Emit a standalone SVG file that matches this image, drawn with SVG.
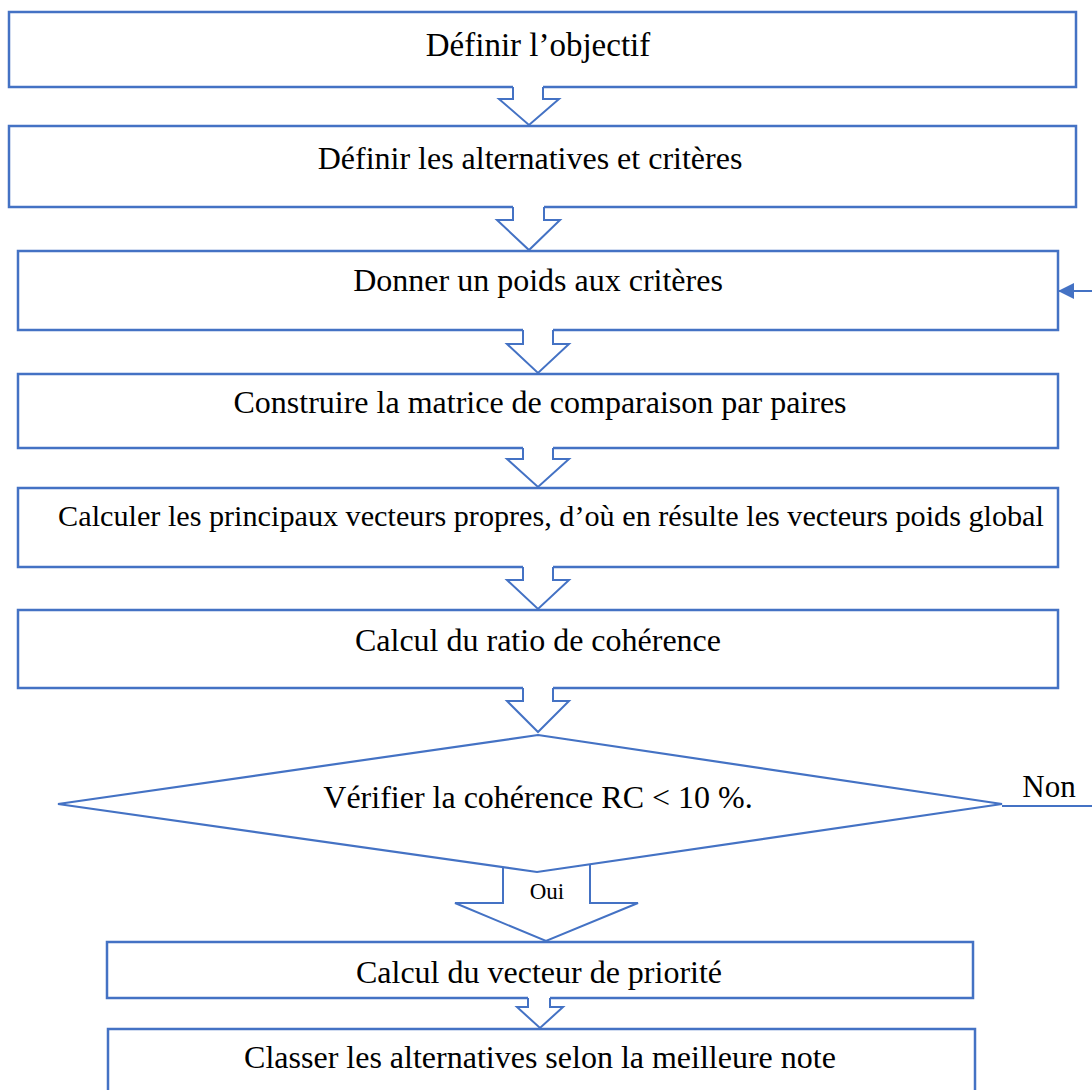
<svg xmlns="http://www.w3.org/2000/svg" width="1092" height="1090" viewBox="0 0 1092 1090">
  <style>
    .box { fill: #ffffff; stroke: #4472C4; stroke-width: 2.5; }
    .dec { fill: #ffffff; stroke: #4472C4; stroke-width: 2.2; }
    .afill { fill: #ffffff; stroke: none; }
    .aline { fill: none; stroke: #4472C4; stroke-width: 2; stroke-linejoin: miter; }
    .link { fill: none; stroke: #4472C4; stroke-width: 2.2; }
    .lbl { font-family: "Liberation Serif", "Times New Roman", serif; font-size: 32px; fill: #000000; text-anchor: middle; }
    .small { font-size: 23px; }
  </style>
  <defs>
    <marker id="head" viewBox="0 0 16 16" refX="16" refY="8" markerUnits="userSpaceOnUse" markerWidth="16" markerHeight="16" orient="auto">
      <path d="M0,0 L16,8 L0,16 z" fill="#4472C4"/>
    </marker>
  </defs>

  <rect width="1092" height="1090" fill="#ffffff"/>

  <g id="n1">
    <rect class="box" x="9" y="12" width="1067" height="75"/>
    <text class="lbl" x="538" y="56" style="font-size:33px">Définir l’objectif</text>
  </g>
  <g id="n2">
    <rect class="box" x="9" y="126" width="1067" height="81"/>
    <text class="lbl" x="530" y="169">Définir les alternatives et critères</text>
  </g>
  <g id="n3">
    <rect class="box" x="18" y="251" width="1040" height="79"/>
    <text class="lbl" x="538" y="291">Donner un poids aux critères</text>
  </g>
  <g id="n4">
    <rect class="box" x="18" y="374" width="1040" height="74"/>
    <text class="lbl" x="540" y="413">Construire la matrice de comparaison par paires</text>
  </g>
  <g id="n5">
    <rect class="box" x="18" y="488" width="1040" height="79"/>
    <text class="lbl" x="551" y="526" style="font-size:30.2px">Calculer les principaux vecteurs propres, d’où en résulte les vecteurs poids global</text>
  </g>
  <g id="n6">
    <rect class="box" x="18" y="610" width="1040" height="78"/>
    <text class="lbl" x="538" y="651">Calcul du ratio de cohérence</text>
  </g>
  <g id="n7">
    <polygon class="dec" points="538,735 1002,804 537,872 58,804"/>
    <text class="lbl" x="538" y="808">Vérifier la cohérence RC &lt; 10 %.</text>
  </g>
  <g id="n8">
    <rect class="box" x="107" y="942" width="866" height="56"/>
    <text class="lbl" x="539" y="983">Calcul du vecteur de priorité</text>
  </g>
  <g id="n9">
    <rect class="box" x="108" y="1029" width="867" height="80"/>
    <text class="lbl" x="540" y="1068">Classer les alternatives selon la meilleure note</text>
  </g>

  <g id="connectors">
    <!-- block arrows between steps: white body hides the box edge, outline drawn open at the top -->
    <path class="afill" d="M513,85 V99 H499 L529,125 L559,99 H543 V85 z"/>
    <path class="aline" d="M513,87 V99 H499 L529,125 L559,99 H543 V87"/>

    <path class="afill" d="M513,205 V220 H497 L529,250 L560,220 H544 V205 z"/>
    <path class="aline" d="M513,207 V220 H497 L529,250 L560,220 H544 V207"/>

    <path class="afill" d="M523,328 V344 H507 L538,373 L569,344 H553 V328 z"/>
    <path class="aline" d="M523,330 V344 H507 L538,373 L569,344 H553 V330"/>

    <path class="afill" d="M523,446 V459 H507 L538,487 L569,459 H553 V446 z"/>
    <path class="aline" d="M523,448 V459 H507 L538,487 L569,459 H553 V448"/>

    <path class="afill" d="M523,565 V580 H507 L538,609 L569,580 H553 V565 z"/>
    <path class="aline" d="M523,567 V580 H507 L538,609 L569,580 H553 V567"/>

    <path class="afill" d="M523,686 V701 H507 L538,732 L569,701 H553 V686 z"/>
    <path class="aline" d="M523,688 V701 H507 L538,732 L569,701 H553 V688"/>

    <!-- "Oui" branch: wide open arrow starting on the lower edges of the decision -->
    <path class="aline" d="M503,867 V903 H455 L546,941 L638,903 H590 V864"/>
    <text class="lbl small" x="547" y="899">Oui</text>

    <path class="afill" d="M528,996 V1007 H517 L540,1028 L563,1007 H550 V996 z"/>
    <path class="aline" d="M528,998 V1007 H517 L540,1028 L563,1007 H550 V998"/>

    <!-- "Non" branch loops back to the weighting step -->
    <path class="link" d="M1002,806 H1100 V291 H1058" marker-end="url(#head)"/>
    <text class="lbl" x="1049" y="797" style="font-size:31px">Non</text>
  </g>
</svg>
